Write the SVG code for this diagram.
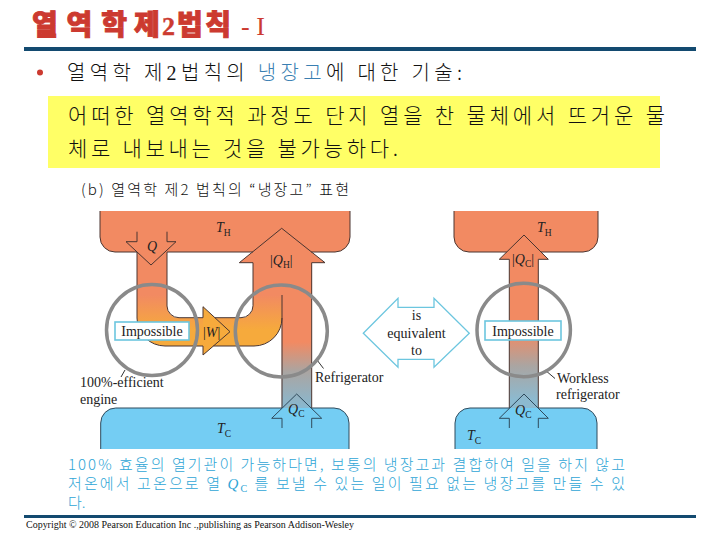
<svg xmlns="http://www.w3.org/2000/svg" width="720" height="540" viewBox="0 0 720 540">
<style>
.ko{font-family:"Noto Sans CJK KR","Noto Sans",sans-serif;font-weight:300;}
.sr{font-family:"Liberation Serif","Times New Roman",serif;}
.lbl{font-family:"Liberation Serif","Times New Roman",serif;font-size:14px;fill:#222;}
.it{font-style:italic;}
.sub{font-size:9.5px;font-style:normal;}
.ol{fill:none;stroke:#4a3530;stroke-width:1;}
.olb{fill:none;stroke:#2f4a5c;stroke-width:1;}
.hot{fill:#f28a62;}
.cold{fill:#74cdf3;}
.ring{fill:none;stroke:#8a8a8a;stroke-width:3.5;}
.box{fill:#fff;stroke:#6cc6df;stroke-width:1.6;}
.lead{stroke:#333;stroke-width:1;fill:none;}
</style>
<defs>
<linearGradient id="gW" gradientUnits="userSpaceOnUse" x1="0" y1="295" x2="0" y2="330">
<stop offset="0" stop-color="#f28a62"/><stop offset="1" stop-color="#f6aa3c"/>
</linearGradient>
<linearGradient id="gQL" gradientUnits="userSpaceOnUse" x1="0" y1="342" x2="0" y2="408">
<stop offset="0" stop-color="#f28a62"/><stop offset="0.45" stop-color="#aaa5a2"/><stop offset="1" stop-color="#88b8d0"/>
</linearGradient>
<linearGradient id="gQR" gradientUnits="userSpaceOnUse" x1="0" y1="332" x2="0" y2="400">
<stop offset="0" stop-color="#f28a62"/><stop offset="0.5" stop-color="#aaa5a2"/><stop offset="1" stop-color="#8cbad0"/>
</linearGradient>
</defs>

<g id="title">
<text y="35" font-family="'Noto Sans CJK KR','Noto Sans',sans-serif" font-size="28" font-weight="900" fill="#cc3a30" stroke="#cc3a30" stroke-width="0.9"><tspan x="32" textLength="95" lengthAdjust="spacing">열역학</tspan><tspan x="134">제</tspan><tspan class="sr" x="162" font-size="26" font-weight="bold" stroke-width="0.4">2</tspan><tspan x="177" textLength="54" lengthAdjust="spacing">법칙</tspan></text>
<text class="sr" x="241" y="35" font-size="26" fill="#cc3a30">- I</text>
<rect x="24" y="47" width="672" height="4" fill="#134a70"/>
</g>

<g id="bullet">
<circle cx="40" cy="72.5" r="3" fill="#cc3a30"/>
<text class="ko" x="67" y="80" font-size="20" fill="#111" textLength="395" lengthAdjust="spacing">열역학 제<tspan class="sr">2</tspan>법칙의 <tspan fill="#3a7fb2">냉장고</tspan>에 대한 기술:</text>
</g>

<g id="statement">
<rect x="48" y="96" width="612" height="72" fill="#ffff66"/>
<text class="ko" x="68" y="123" font-size="21" fill="#111" textLength="597" lengthAdjust="spacing">어떠한 열역학적 과정도 단지 열을 찬 물체에서 뜨거운 물</text>
<text class="ko" x="68" y="156" font-size="21" fill="#111" textLength="330" lengthAdjust="spacing">체로 내보내는 것을 불가능하다.</text>
</g>

<g id="caption">
<text class="ko" x="81" y="195" font-size="15" fill="#111" textLength="268" lengthAdjust="spacing">(b) 열역학 제2 법칙의 “냉장고” 표현</text>
</g>

<g id="hot-left">
<path class="hot" d="M100,211 H350 V237 A15,15 0 0 1 335,252 H115 A15,15 0 0 1 100,237 Z"/>
</g>
<g id="hot-right">
<path class="hot" d="M454,211 H598 V237 A15,15 0 0 1 583,252 H469 A15,15 0 0 1 454,237 Z"/>
</g>

<g id="flows">
<path fill="url(#gW)" d="M137,250 V318 A28,28 0 0 0 165,346 H254 A28,28 0 0 0 282,318 V262 H253 V306 A12,12 0 0 1 241,318 H179 A12,12 0 0 1 167,306 V250 Z"/>
<path fill="#f6aa3c" d="M203,306.7 L230,331.7 L203,355 Z"/>
<rect x="253" y="250" width="59" height="46" class="hot"/>
<path class="hot" d="M239.3,262.7 L281.7,228.3 L325,262.7 Z"/>
<rect x="281.7" y="262" width="30" height="147" fill="url(#gQL)"/>
<rect x="509.3" y="250" width="29" height="159" fill="url(#gQR)"/>
<path class="hot" d="M499.3,259.3 L524,235 L548.3,259.3 Z"/>
</g>

<g id="cold-left">
<path class="cold" d="M100.7,449 V423 A15,15 0 0 1 115.7,408 H334 A15,15 0 0 1 349,423 V449 Z"/>
</g>
<g id="cold-right">
<path class="cold" d="M455,449 V423 A15,15 0 0 1 470,408 H582 A15,15 0 0 1 597,423 V449 Z"/>
</g>

<g id="connectors">
<path class="ol" d="M100,211 V237 A15,15 0 0 0 115,252 H137 M167,252 H252.9 M311.2,252 H335 A15,15 0 0 0 350,237 V211"/>
<path class="ol" d="M137,231.7 V241.7 H126 L151,265 L176,241.7 H167 V231.7"/>
<path class="ol" d="M137,252 V318 A28,28 0 0 0 165,346 H203 V355 L230,331.7 L203,306.7 V317.7 H179 A12,12 0 0 1 167,306 V252"/>
<path class="ol" d="M213.4,346 H254 A28,28 0 0 0 282,318"/>
<path class="ol" d="M214.9,317.7 H241 A12,12 0 0 0 253,305.7 V262.7 H239.3 L281.7,228.3 L325,262.7 H311.7 V408"/>
<path class="ol" d="M282,295 V408"/>
<path class="olb" d="M282,428 V418.3 H271.7 L296.7,394 L321.7,418.3 H311.7 V428"/>
<path class="olb" d="M100.7,449 V423 A15,15 0 0 1 115.7,408 H282 M311.7,408 H334 A15,15 0 0 1 349,423 V449"/>
<path class="ol" d="M454,211 V237 A15,15 0 0 0 469,252 H506.7 M541,252 H583 A15,15 0 0 0 598,237 V211"/>
<path class="ol" d="M509.3,408 V259.3 H499.3 L524,235 L548.3,259.3 H538.3 V408"/>
<path class="olb" d="M509.3,428 V418.3 H499.3 L524,394 L548.3,418.3 H538.3 V428"/>
<path class="olb" d="M455,449 V423 A15,15 0 0 1 470,408 H509.3 M538.3,408 H582 A15,15 0 0 1 597,423 V449"/>
<line class="lead" x1="125" y1="370" x2="121" y2="377"/>
<line class="lead" x1="317" y1="360" x2="323.5" y2="368.5"/>
<line class="lead" x1="545" y1="370" x2="555" y2="378.5"/>
</g>

<g id="engine-circle">
<circle class="ring" cx="152" cy="330" r="45.5"/>
<rect class="box" x="115" y="322" width="74" height="18"/>
<text class="lbl" x="152" y="335.5" text-anchor="middle">Impossible</text>
</g>
<g id="fridge-circle">
<circle class="ring" cx="281.3" cy="331" r="46"/>
</g>
<g id="workless-circle">
<circle class="ring" cx="523.7" cy="330" r="46.7"/>
<rect class="box" x="485" y="321" width="76" height="19"/>
<text class="lbl" x="523" y="335.5" text-anchor="middle">Impossible</text>
</g>

<g id="equivalent">
<path fill="#fff" stroke="#6cc6df" stroke-width="1.3" d="M363.3,333.3 L398,298.3 V307.3 H434 V298.3 L469.3,333.3 L434,367.3 V359.3 H398 V367.3 Z"/>
<text class="lbl" x="416.5" y="320" text-anchor="middle">is</text>
<text class="lbl" x="416.5" y="338" text-anchor="middle">equivalent</text>
<text class="lbl" x="416.5" y="355" text-anchor="middle">to</text>
</g>

<g id="labels">
<text class="lbl" x="216" y="232"><tspan class="it">T</tspan><tspan class="sub" dy="3.5">H</tspan></text>
<text class="lbl it" x="152" y="251" text-anchor="middle">Q</text>
<text class="lbl" x="270" y="265">|<tspan class="it">Q</tspan><tspan class="sub" dy="3">H</tspan><tspan dy="-3">|</tspan></text>
<text class="lbl" x="203" y="337">|<tspan class="it">W</tspan>|</text>
<text class="lbl" x="288" y="414"><tspan class="it">Q</tspan><tspan class="sub" dy="3">C</tspan></text>
<text class="lbl" x="217" y="433"><tspan class="it">T</tspan><tspan class="sub" dy="4">C</tspan></text>
<text class="lbl" x="80" y="387">100%-efficient</text>
<text class="lbl" x="80" y="403.5">engine</text>
<text class="lbl" x="315" y="382">Refrigerator</text>
<text class="lbl" x="537" y="232"><tspan class="it">T</tspan><tspan class="sub" dy="3.5">H</tspan></text>
<text class="lbl" x="512" y="264">|<tspan class="it">Q</tspan><tspan class="sub" dy="3">C</tspan><tspan dy="-3">|</tspan></text>
<text class="lbl" x="515" y="415"><tspan class="it">Q</tspan><tspan class="sub" dy="3">C</tspan></text>
<text class="lbl" x="467" y="440"><tspan class="it">T</tspan><tspan class="sub" dy="4">C</tspan></text>
<text class="lbl" x="557" y="383">Workless</text>
<text class="lbl" x="556" y="399">refrigerator</text>
</g>

<g id="conclusion">
<text class="ko" x="68" y="470" font-size="15" fill="#2fa6d6" textLength="557" lengthAdjust="spacing">100% 효율의 열기관이 가능하다면, 보통의 냉장고과 결합하여 일을 하지 않고</text>
<text class="ko" x="68" y="489" font-size="15" fill="#2fa6d6" textLength="557" lengthAdjust="spacing">저온에서 고온으로 열 <tspan class="sr" font-style="italic">Q</tspan><tspan class="sr" font-size="10" dy="3">C</tspan><tspan dy="-3"> 를 보낼 수 있는 일이 필요 없는 냉장고를 만들 수 있</tspan></text>
<text class="ko" x="68" y="508" font-size="15" fill="#2fa6d6">다.</text>
</g>

<g id="footer">
<rect x="24" y="515" width="672" height="3" fill="#134a70"/>
<text class="sr" x="26" y="528" font-size="10" fill="#111" textLength="328" lengthAdjust="spacingAndGlyphs">Copyright © 2008 Pearson Education Inc .,publishing as Pearson Addison-Wesley</text>
</g>
</svg>
